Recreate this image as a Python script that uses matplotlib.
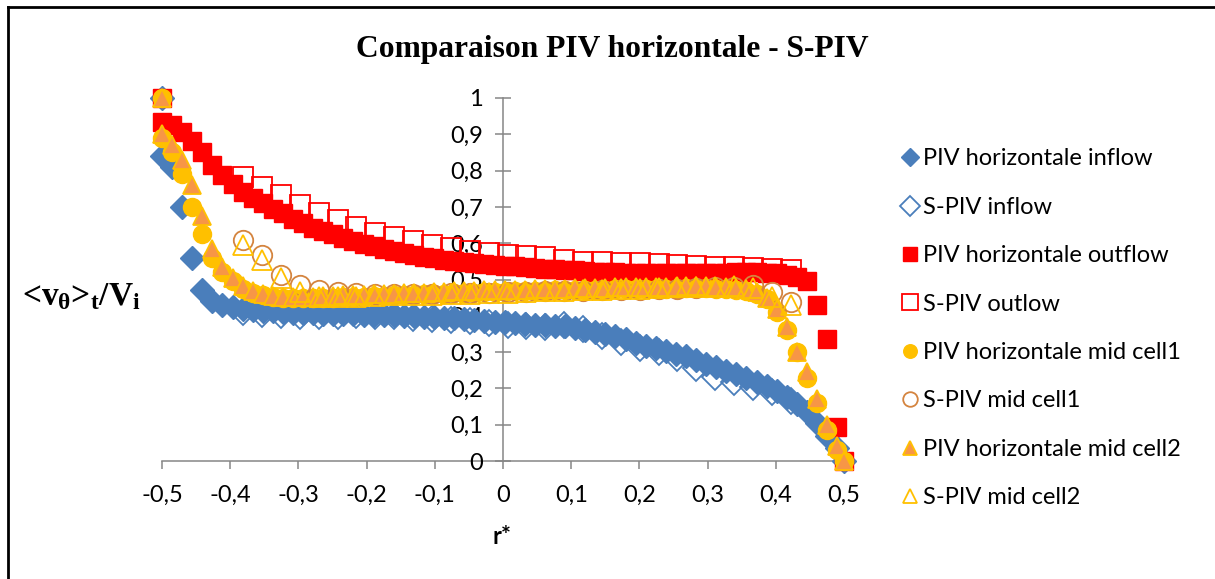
import numpy as np
import matplotlib
matplotlib.use('Agg')
from matplotlib import pyplot as plt
from matplotlib.ticker import FuncFormatter
from matplotlib.lines import Line2D

plt.rcParams['mathtext.fontset'] = 'custom'
plt.rcParams['mathtext.rm'] = 'Liberation Serif:bold'
plt.rcParams['mathtext.it'] = 'Liberation Serif:bold'
plt.rcParams['mathtext.bf'] = 'Liberation Serif:bold'

# Data
# PIV horizontale grid (wall point at -0.5 and 0.5 added separately)
r_piv = np.concatenate([[-0.5], np.linspace(-0.5, 0.49, 68), [0.5]])
# S-PIV grid
r_spiv = np.linspace(-0.381, 0.422, 30)

piv_inflow = [1.0,
    0.84, 0.81, 0.70, 0.56, 0.47, 0.44, 0.43, 0.425, 0.42, 0.417,
    0.414, 0.412, 0.41, 0.409, 0.408, 0.407, 0.406, 0.405, 0.404, 0.404,
    0.403, 0.402, 0.402, 0.401, 0.40, 0.399, 0.398, 0.397, 0.395, 0.393,
    0.39, 0.388, 0.386, 0.384, 0.382, 0.38, 0.378, 0.376, 0.375, 0.373,
    0.371, 0.367, 0.362, 0.356, 0.35, 0.343, 0.335, 0.326, 0.318, 0.31,
    0.303, 0.296, 0.288, 0.278, 0.268, 0.258, 0.249, 0.24, 0.23, 0.218,
    0.206, 0.193, 0.177, 0.158, 0.135, 0.105, 0.07, 0.035,
    0.0]

piv_outflow = [1.0,
    0.935, 0.926, 0.906, 0.882, 0.85, 0.815, 0.788, 0.762, 0.742, 0.725,
    0.71, 0.695, 0.682, 0.668, 0.655, 0.643, 0.633, 0.624, 0.615, 0.607,
    0.599, 0.592, 0.585, 0.579, 0.574, 0.568, 0.563, 0.559, 0.555, 0.551,
    0.548, 0.545, 0.542, 0.54, 0.538, 0.536, 0.534, 0.532, 0.53, 0.528,
    0.526, 0.525, 0.523, 0.522, 0.521, 0.52, 0.519, 0.518, 0.518, 0.517,
    0.517, 0.517, 0.517, 0.518, 0.518, 0.519, 0.519, 0.52, 0.52, 0.52,
    0.519, 0.517, 0.513, 0.507, 0.495, 0.43, 0.335, 0.094,
    0.0]

piv_mid1 = [1.0,
    0.89, 0.85, 0.79, 0.70, 0.625, 0.56, 0.52, 0.495, 0.475, 0.463,
    0.456, 0.452, 0.45, 0.449, 0.449, 0.449, 0.45, 0.45, 0.451, 0.452,
    0.453, 0.454, 0.455, 0.456, 0.457, 0.458, 0.459, 0.46, 0.461, 0.462,
    0.463, 0.464, 0.465, 0.465, 0.466, 0.467, 0.467, 0.468, 0.469, 0.47,
    0.47, 0.471, 0.471, 0.472, 0.472, 0.473, 0.473, 0.474, 0.474, 0.475,
    0.475, 0.475, 0.476, 0.476, 0.476, 0.475, 0.474, 0.472, 0.468, 0.46,
    0.445, 0.41, 0.36, 0.3, 0.23, 0.16, 0.085, 0.03,
    0.0]

piv_mid2 = [1.0,
    0.90, 0.87, 0.83, 0.76, 0.675, 0.585, 0.535, 0.505, 0.483, 0.468,
    0.46, 0.455, 0.453, 0.452, 0.452, 0.453, 0.454, 0.455, 0.456, 0.457,
    0.458, 0.459, 0.46, 0.461, 0.462, 0.463, 0.464, 0.465, 0.466, 0.467,
    0.468, 0.469, 0.47, 0.47, 0.471, 0.472, 0.472, 0.473, 0.474, 0.474,
    0.475, 0.476, 0.476, 0.477, 0.477, 0.478, 0.478, 0.479, 0.479, 0.48,
    0.48, 0.48, 0.481, 0.481, 0.481, 0.48, 0.479, 0.477, 0.473, 0.465,
    0.45, 0.42, 0.37, 0.3, 0.245, 0.17, 0.1, 0.04,
    0.0]

spiv_inflow = [0.41, 0.405, 0.403, 0.40, 0.40, 0.40, 0.403, 0.40, 0.40, 0.395,
    0.39, 0.388, 0.385, 0.38, 0.375, 0.372, 0.368, 0.375, 0.365, 0.345,
    0.327, 0.31, 0.30, 0.283, 0.257, 0.232, 0.219, 0.204, 0.19, 0.165]

spiv_outflow = [0.782, 0.755, 0.733, 0.705, 0.683, 0.664, 0.645, 0.628, 0.617, 0.607,
    0.596, 0.587, 0.578, 0.573, 0.568, 0.565, 0.562, 0.555, 0.549, 0.548,
    0.546, 0.545, 0.544, 0.54, 0.536, 0.535, 0.534, 0.532, 0.53, 0.525]

spiv_mid1 = [0.609, 0.567, 0.512, 0.485, 0.471, 0.465, 0.462, 0.46, 0.46, 0.46,
    0.461, 0.462, 0.463, 0.464, 0.465, 0.466, 0.467, 0.468, 0.469, 0.47,
    0.471, 0.472, 0.473, 0.474, 0.476, 0.478, 0.48, 0.485, 0.466, 0.438]

spiv_mid2 = [0.595, 0.554, 0.504, 0.466, 0.452, 0.452, 0.453, 0.455, 0.456, 0.457,
    0.458, 0.46, 0.461, 0.462, 0.464, 0.465, 0.467, 0.468, 0.47, 0.472,
    0.473, 0.475, 0.477, 0.478, 0.479, 0.48, 0.481, 0.477, 0.452, 0.43]

blue = '#4A7EBB'
red = '#FF0000'
yellow = '#FFC000'
orange = '#F79646'
brown = '#D4843F'
gray = '#868686'

fig = plt.figure(figsize=(12.15, 5.79), dpi=100)
ax = fig.add_axes([162 / 1215, 1 - 461 / 579, 682 / 1215, 363 / 579])

kw = dict(linestyle='none', clip_on=False)
ax.plot(r_piv, piv_inflow, 'D', ms=12.5, color=blue, mec=blue, label='PIV horizontale inflow', **kw)
ax.plot(r_spiv, spiv_inflow, 'D', ms=13, mfc='none', mec=blue, mew=1.3, label='S-PIV inflow', **kw)
ax.plot(r_piv, piv_outflow, 's', ms=12.5, color=red, mec=red, label='PIV horizontale outflow', **kw)
ax.plot(r_spiv, spiv_outflow, 's', ms=14.5, mfc='none', mec=red, mew=1.3, label='S-PIV outlow', **kw)
ax.plot(r_piv, piv_mid1, 'o', ms=13, color=yellow, mec=yellow, label='PIV horizontale mid cell1', **kw)
ax.plot(r_spiv, spiv_mid1, 'o', ms=14, mfc='none', mec=brown, mew=1.3, label='S-PIV mid cell1', **kw)
ax.plot(r_piv, piv_mid2, '^', ms=13.5, mfc=orange, mec=yellow, mew=1.3,
        label='PIV horizontale mid cell2', **kw)
ax.plot(r_spiv, spiv_mid2, '^', ms=14, mfc='none', mec=yellow, mew=1.3, label='S-PIV mid cell2', **kw)

ax.set_xlim(-0.5, 0.5)
ax.set_ylim(0, 1)
ax.set_xticks(np.arange(-0.5, 0.51, 0.1))
ax.set_yticks(np.arange(0, 1.01, 0.1))
fmt = FuncFormatter(lambda v, p: ('%g' % (round(v, 1) + 0.0)).replace('.', ','))
ax.xaxis.set_major_formatter(fmt)
ax.yaxis.set_major_formatter(fmt)

for s in ['top', 'right']:
    ax.spines[s].set_visible(False)
ax.spines['left'].set_position(('data', 0))
ax.spines['left'].set_color(gray)
ax.spines['bottom'].set_color(gray)
ax.spines['left'].set_linewidth(1.1)
ax.spines['bottom'].set_linewidth(1.1)
ax.spines['left'].set_zorder(0)
ax.spines['bottom'].set_zorder(0)
ax.patch.set_alpha(0)
ax.tick_params(axis='y', direction='inout', length=11, width=1.1, color=gray, pad=9,
               labelsize=17, labelfontfamily='Lato')
ax.tick_params(axis='x', direction='out', length=6, width=1.1, color=gray, pad=11,
               labelsize=17, labelfontfamily='Lato')

fig.text(612 / 1215, 1 - 49 / 579, 'Comparaison PIV horizontale - S-PIV', ha='center', va='center',
         family='Liberation Serif', weight='bold', fontsize=22.7)
# y label: plain text parts outside $...$ avoid mathtext relation spacing
fig.text(22 / 1215, 1 - 297 / 579,
         r'<v$_{\mathrm{\theta}}$>$_{\mathrm{t}}$/V$_{\mathrm{i}}$',
         ha='left', va='center', fontsize=24, family='Liberation Serif', weight='bold')
fig.text(502 / 1215, 1 - 537 / 579, 'r*', ha='center', va='center', family='Lato',
         weight='bold', fontsize=17)

fig.legend(loc='upper left', bbox_to_anchor=(893 / 1215, 1 - 139 / 579), frameon=False,
           prop={'family': 'Lato', 'size': 17}, handlelength=0.6, handletextpad=0.25,
           labelspacing=1.16, markerscale=0.75, borderaxespad=0)

# outer frame
fig.add_artist(Line2D([8 / 1215, 8 / 1215], [0, 1 - 7 / 579], color='black', lw=2))
fig.add_artist(Line2D([8 / 1215, 1], [1 - 7 / 579, 1 - 7 / 579], color='black', lw=2))

plt.savefig('out.png', dpi=100)
plt.close()
